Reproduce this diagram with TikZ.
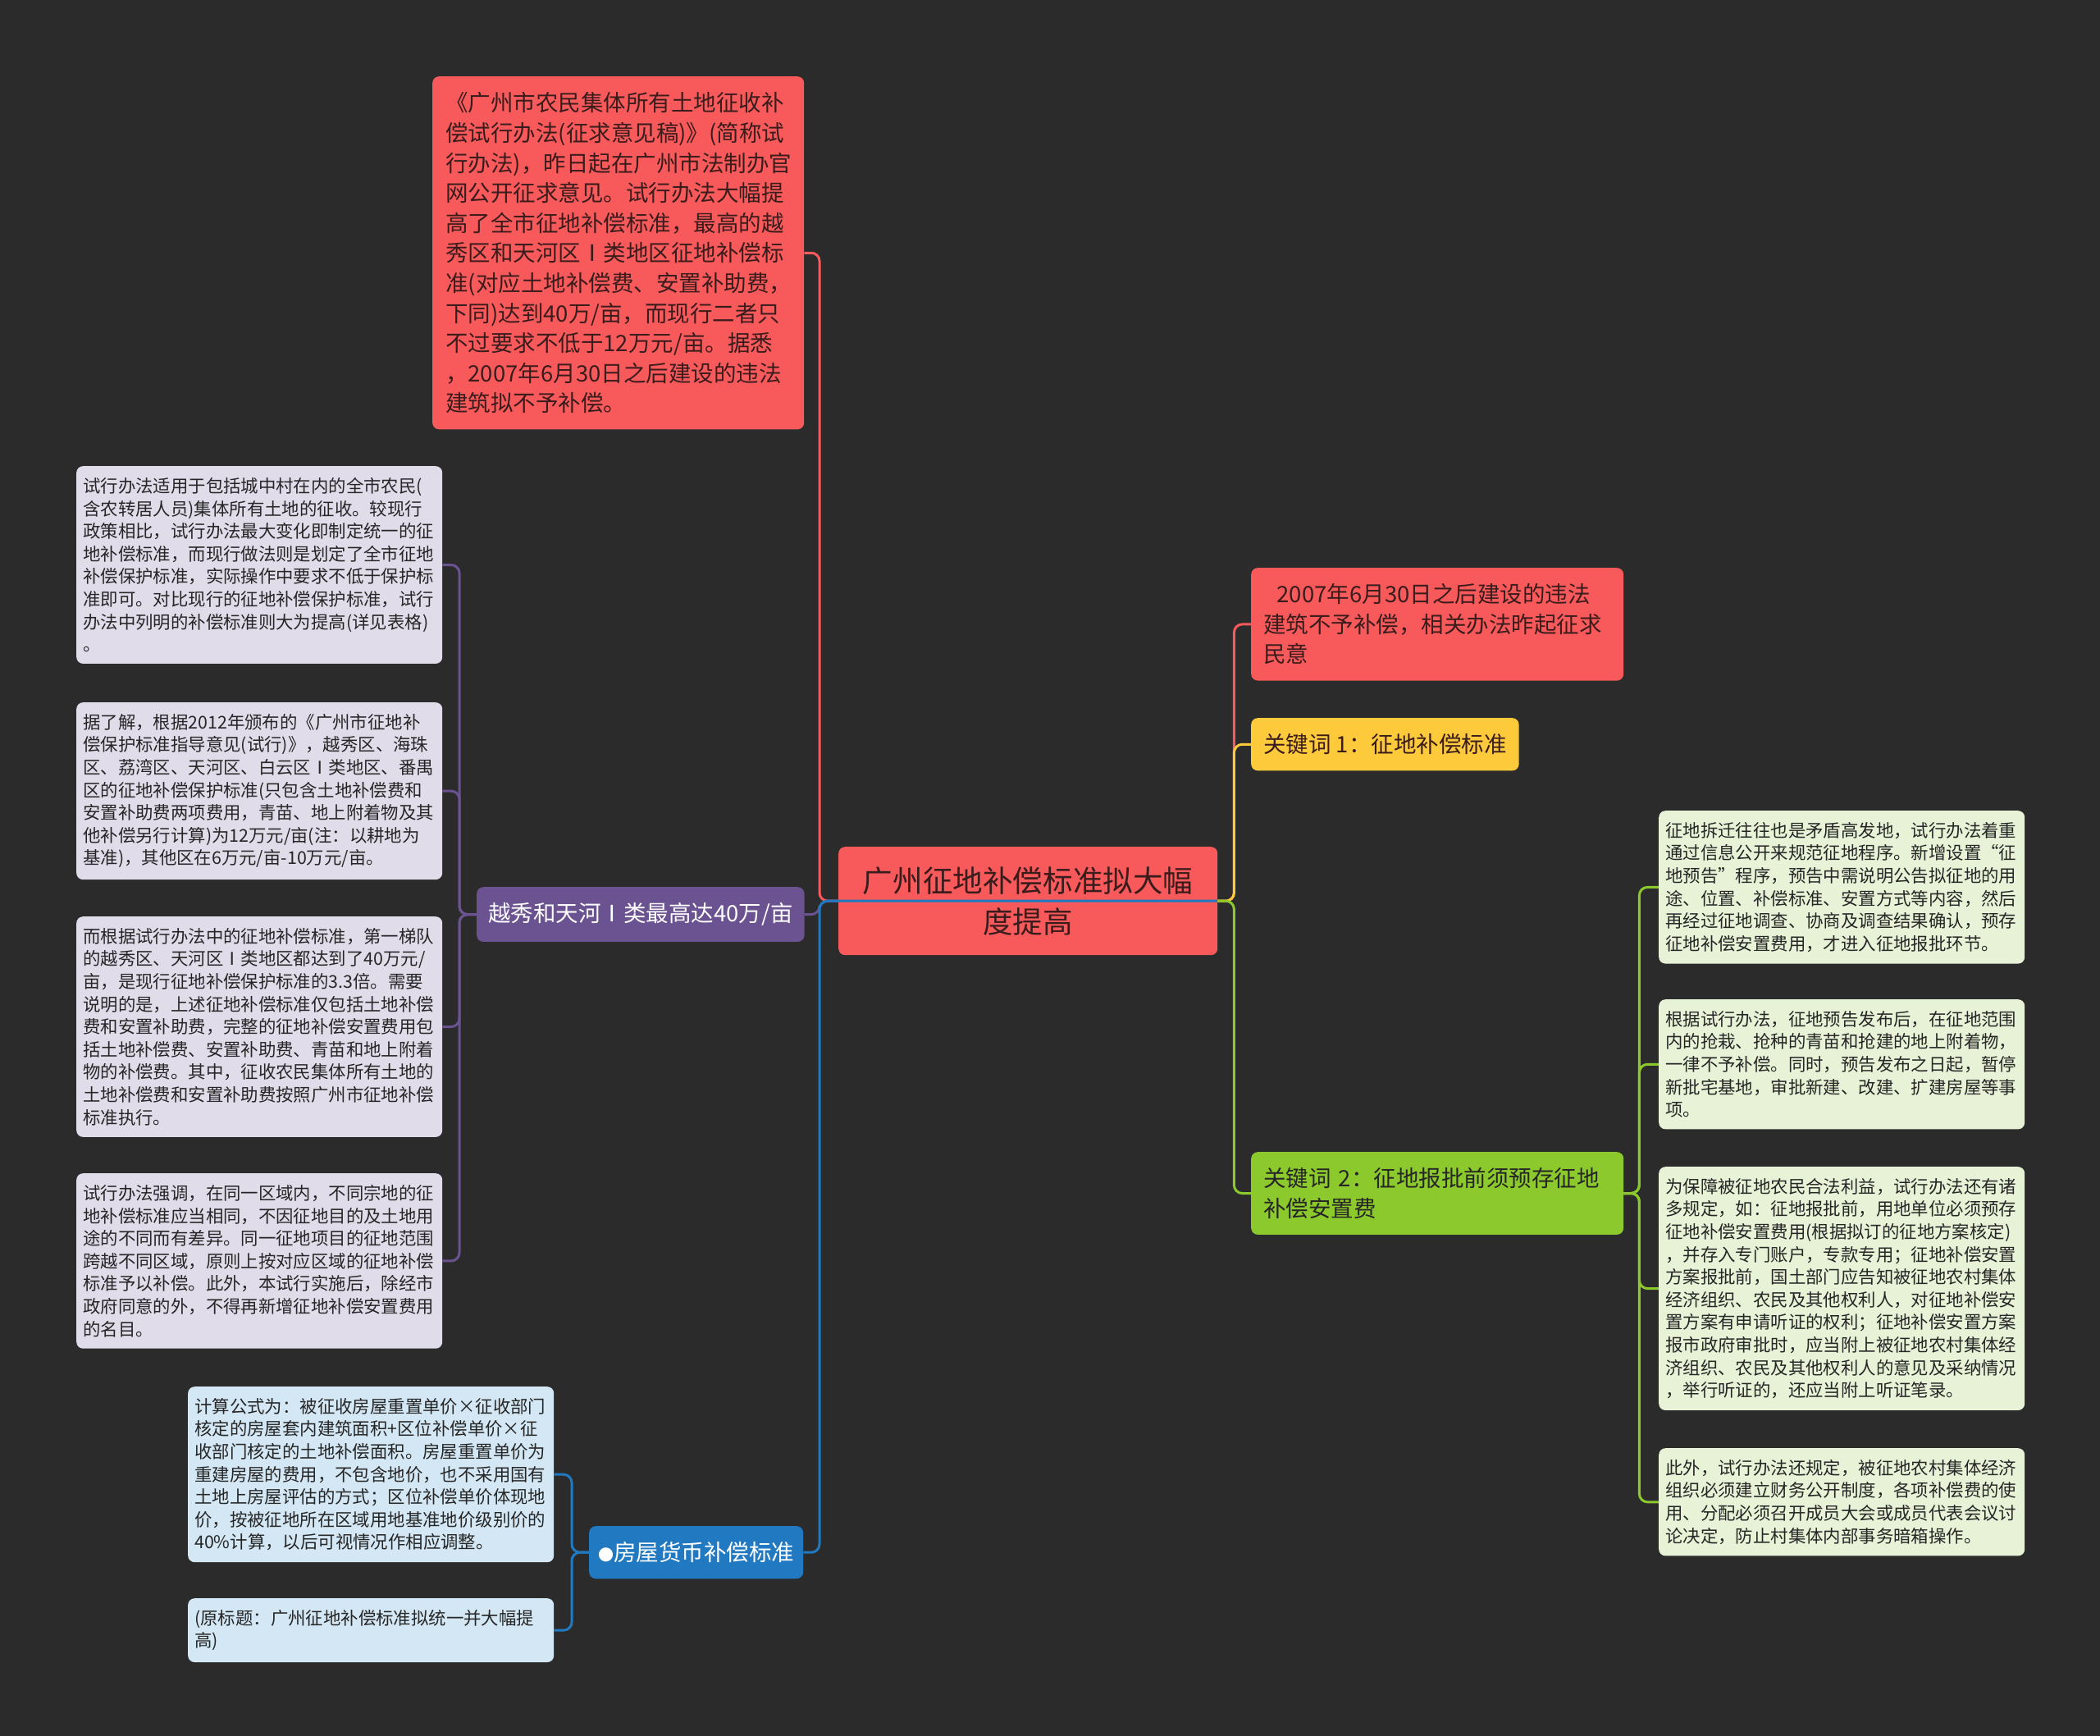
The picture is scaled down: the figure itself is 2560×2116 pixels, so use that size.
\documentclass[tikz,border=0pt]{standalone}
\usepackage{fontspec}
\setmainfont{Noto Sans CJK SC}
\usetikzlibrary{positioning, calc}

\definecolor{bgc}{HTML}{2B2B2B}
\definecolor{redc}{HTML}{F85A5B}
\definecolor{purc}{HTML}{6B5291}
\definecolor{lavc}{HTML}{E0DCEA}
\definecolor{bluc}{HTML}{2079C1}
\definecolor{skyc}{HTML}{D3E7F4}
\definecolor{yelc}{HTML}{FDCA3C}
\definecolor{grnc}{HTML}{8CC92C}
\definecolor{minc}{HTML}{E7F2D6}
\definecolor{inkc}{HTML}{262626}
\definecolor{redink}{HTML}{3A1C1C}

\begin{document}
\begin{tikzpicture}[x=1pt, y=-1pt,
  box/.style={rounded corners=8pt, inner ysep=10pt, inner xsep=9pt, align=left, text=inkc, anchor=north west},
  leaf/.style={box, text width=430pt, inner xsep=8pt, inner ysep=14pt, font=\fontsize{21.4pt}{27.6pt}\selectfont},
  topic/.style={box, font=\fontsize{27.5pt}{36.6pt}\selectfont, inner xsep=15pt, inner ysep=19.3pt},
  link/.style={line width=3pt, rounded corners=10pt}]

% Canvas
\fill[bgc] (0,0) rectangle (2560,2116);
\useasboundingbox (0,0) rectangle (2560,2116);

% Central topic
\node[box, fill=redc, text=redink, align=center, minimum width=462pt, minimum height=132pt,
  font=\fontsize{36.6pt}{50pt}\selectfont] (root) at (1022,1032)
  {广州征地补偿标准拟大幅\\度提高};

% Left branch
\node[topic, fill=redc, text=redink, text width=421pt, inner xsep=16pt] (lawtext) at (527,93)
  {《广州市农民集体所有土地征收补\\偿试行办法(征求意见稿)》(简称试\\行办法)，昨日起在广州市法制办官\\网公开征求意见。试行办法大幅提\\高了全市征地补偿标准，最高的越\\秀区和天河区Ⅰ类地区征地补偿标\\准(对应土地补偿费、安置补助费，\\下同)达到40万/亩，而现行二者只\\不过要求不低于12万元/亩。据悉\\，2007年6月30日之后建设的违法\\建筑拟不予补偿。};
\node[topic, fill=purc, text=white, inner xsep=14pt] (top1) at (581,1081)
  {越秀和天河Ⅰ类最高达40万/亩};
\node[topic, fill=bluc, text=white, inner xsep=11pt] (top2) at (718,1860)
  {{\fontsize{19pt}{19pt}\selectfont ●}房屋货币补偿标准};

% Purple leaves
\node[leaf, fill=lavc] (p1) at (93,568)
  {试行办法适用于包括城中村在内的全市农民(\\含农转居人员)集体所有土地的征收。较现行\\政策相比，试行办法最大变化即制定统一的征\\地补偿标准，而现行做法则是划定了全市征地\\补偿保护标准，实际操作中要求不低于保护标\\准即可。对比现行的征地补偿保护标准，试行\\办法中列明的补偿标准则大为提高(详见表格)\\。};
\node[leaf, fill=lavc] (p2) at (93,856)
  {据了解，根据2012年颁布的《广州市征地补\\偿保护标准指导意见(试行)》，越秀区、海珠\\区、荔湾区、天河区、白云区Ⅰ类地区、番禺\\区的征地补偿保护标准(只包含土地补偿费和\\安置补助费两项费用，青苗、地上附着物及其\\他补偿另行计算)为12万元/亩(注：以耕地为\\基准)，其他区在6万元/亩-10万元/亩。};
\node[leaf, fill=lavc] (p3) at (93,1117)
  {而根据试行办法中的征地补偿标准，第一梯队\\的越秀区、天河区Ⅰ类地区都达到了40万元/\\亩，是现行征地补偿保护标准的3.3倍。需要\\说明的是，上述征地补偿标准仅包括土地补偿\\费和安置补助费，完整的征地补偿安置费用包\\括土地补偿费、安置补助费、青苗和地上附着\\物的补偿费。其中，征收农民集体所有土地的\\土地补偿费和安置补助费按照广州市征地补偿\\标准执行。};
\node[leaf, fill=lavc] (p4) at (93,1430)
  {试行办法强调，在同一区域内，不同宗地的征\\地补偿标准应当相同，不因征地目的及土地用\\途的不同而有差异。同一征地项目的征地范围\\跨越不同区域，原则上按对应区域的征地补偿\\标准予以补偿。此外，本试行实施后，除经市\\政府同意的外，不得再新增征地补偿安置费用\\的名目。};

% Blue leaves
\node[leaf, fill=skyc] (b1) at (229,1690)
  {计算公式为：被征收房屋重置单价×征收部门\\核定的房屋套内建筑面积+区位补偿单价×征\\收部门核定的土地补偿面积。房屋重置单价为\\重建房屋的费用，不包含地价，也不采用国有\\土地上房屋评估的方式；区位补偿单价体现地\\价，按被征地所在区域用地基准地价级别价的\\40\%计算，以后可视情况作相应调整。};
\node[leaf, fill=skyc] (b2) at (229,1948)
  {(原标题：广州征地补偿标准拟统一并大幅提\\高)};

% Right branch
\node[topic, fill=redc, text=redink, text width=424pt] (key0) at (1525,692)
  {\hspace*{0.6em}2007年6月30日之后建设的违法\\建筑不予补偿，相关办法昨起征求\\民意};
\node[topic, fill=yelc, text=redink] (key1) at (1525,875)
  {关键词 1：征地补偿标准};
\node[topic, fill=grnc, text=inkc, text width=424pt] (key2) at (1525,1404)
  {关键词 2：征地报批前须预存征地\\补偿安置费};

% Green leaves
\node[leaf, fill=minc] (g1) at (2022,988)
  {征地拆迁往往也是矛盾高发地，试行办法着重\\通过信息公开来规范征地程序。新增设置“征\\地预告”程序，预告中需说明公告拟征地的用\\途、位置、补偿标准、安置方式等内容，然后\\再经过征地调查、协商及调查结果确认，预存\\征地补偿安置费用，才进入征地报批环节。};
\node[leaf, fill=minc] (g2) at (2022,1218)
  {根据试行办法，征地预告发布后，在征地范围\\内的抢栽、抢种的青苗和抢建的地上附着物，\\一律不予补偿。同时，预告发布之日起，暂停\\新批宅基地，审批新建、改建、扩建房屋等事\\项。};
\node[leaf, fill=minc] (g3) at (2022,1422)
  {为保障被征地农民合法利益，试行办法还有诸\\多规定，如：征地报批前，用地单位必须预存\\征地补偿安置费用(根据拟订的征地方案核定)\\，并存入专门账户，专款专用；征地补偿安置\\方案报批前，国土部门应告知被征地农村集体\\经济组织、农民及其他权利人，对征地补偿安\\置方案有申请听证的权利；征地补偿安置方案\\报市政府审批时，应当附上被征地农村集体经\\济组织、农民及其他权利人的意见及采纳情况\\，举行听证的，还应当附上听证笔录。};
\node[leaf, fill=minc] (g4) at (2022,1765)
  {此外，试行办法还规定，被征地农村集体经济\\组织必须建立财务公开制度，各项补偿费的使\\用、分配必须召开成员大会或成员代表会议讨\\论决定，防止村集体内部事务暗箱操作。};

% Connectors, left side
\draw[link, redc] (root.west) -- ++(-23,0) |- (lawtext.east);
\draw[link, purc] (root.west) -- ++(-23,0) |- (top1.east);
\draw[link, bluc] (root.east) -- (root.west) -- ++(-23,0) |- (top2.east);
\draw[link, purc] (top1.west) -- ++(-21,0) |- (p1.east);
\draw[link, purc] (top1.west) -- ++(-21,0) |- (p2.east);
\draw[link, purc] (top1.west) -- ++(-21,0) |- (p3.east);
\draw[link, purc] (top1.west) -- ++(-21,0) |- (p4.east);
\draw[link, bluc] (top2.west) -- ++(-21,0) |- (b1.east);
\draw[link, bluc] (top2.west) -- ++(-21,0) |- (b2.east);

% Connectors, right side
\draw[link, redc] (root.east) -- ++(20,0) |- (key0.west);
\draw[link, yelc] (root.east) -- ++(20,0) |- (key1.west);
\draw[link, grnc] (root.east) -- ++(20,0) |- (key2.west);
\draw[link, grnc] (key2.east) -- ++(19,0) |- (g1.west);
\draw[link, grnc] (key2.east) -- ++(19,0) |- (g2.west);
\draw[link, grnc] (key2.east) -- ++(19,0) |- (g3.west);
\draw[link, grnc] (key2.east) -- ++(19,0) |- (g4.west);
\end{tikzpicture}
\end{document}
